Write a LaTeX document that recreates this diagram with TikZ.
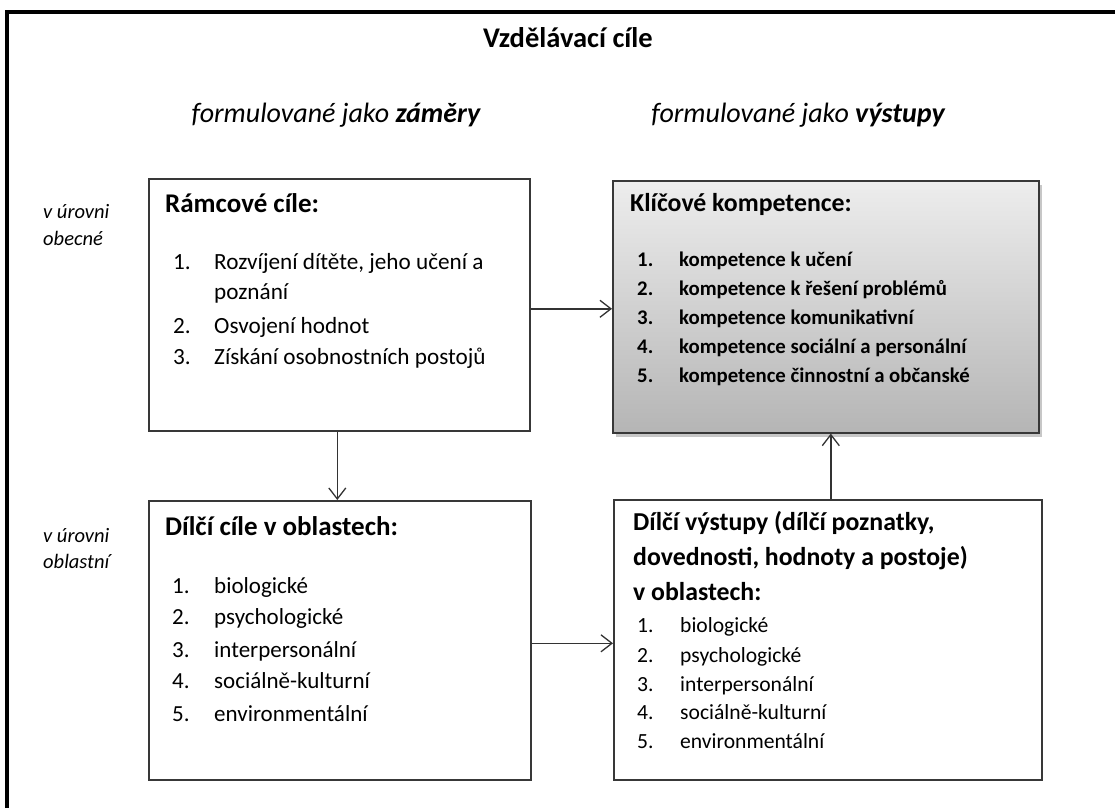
\documentclass[tikz,border=0pt]{standalone}
\usepackage{fontspec}
\setmainfont{Carlito}
\usetikzlibrary{arrows.meta,shadows}
\begin{document}
\begin{tikzpicture}[x=1pt,y=-1pt,
  box/.style={draw=black!78,line width=1.6pt,rectangle,inner sep=0pt,anchor=north west},
  lbl/.style={anchor=base west,inner sep=0pt},
  item/.style={lbl,font=\fontsize{23.2}{26}\selectfont},
  itemb/.style={lbl,font=\fontsize{20.8}{24}\selectfont\bfseries},
  itemd/.style={lbl,font=\fontsize{23}{26}\selectfont},
  itemc/.style={lbl,font=\fontsize{21.6}{24}\selectfont},
  head/.style={lbl,font=\fontsize{27}{30}\selectfont\bfseries},
  headc/.style={lbl,font=\fontsize{25.8}{30}\selectfont\bfseries},
  side/.style={lbl,font=\fontsize{20.5}{24}\selectfont\itshape},
  conn/.style={draw=black!80,line width=1.5pt,-{Straight Barb[length=11pt,width=17pt,line width=1.3pt]}}
]
\useasboundingbox (0,0) rectangle (1115,808);
\fill[white] (0,0) rectangle (1115,808);
% outer frame
\draw[line width=4.5pt,black] (7,808) -- (7,12) -- (1115,12);

% titles
\node[anchor=base,inner sep=0pt,font=\fontsize{28.5}{32}\selectfont\bfseries] (title) at (568,48) {Vzdělávací cíle};
\node[anchor=base,inner sep=0pt,font=\fontsize{28}{32}\selectfont\itshape] (zam) at (336,122) {formulované jako \textbf{záměry}};
\node[anchor=base,inner sep=0pt,font=\fontsize{28}{32}\selectfont\itshape] (vys) at (798,122) {formulované jako \textbf{výstupy}};

% side labels
\node[side] (s1a) at (43,218) {v úrovni};
\node[side] (s1b) at (43,245) {obecné};
\node[side] (s2a) at (43,542) {v úrovni};
\node[side] (s2b) at (43,568) {oblastní};

% boxes
\node[box,minimum width=381,minimum height=252] (b1) at (148,178) {};
\node[box,minimum width=426,minimum height=252,top color=black!7,bottom color=black!29,
  drop shadow={shadow xshift=3pt,shadow yshift=-4pt,opacity=0.22,fill=black}] (b2) at (612,180) {};
\node[box,minimum width=382,minimum height=279] (b3) at (148,500) {};
\node[box,minimum width=428,minimum height=280] (b4) at (613,499) {};

% box 1 text
\node[head] (h1) at (165,212) {Rámcové cíle:};
\node[item] (n11) at (173,269) {1.};
\node[item] (t11) at (214,269) {Rozvíjení dítěte, jeho učení a};
\node[item] (t11b) at (214,299) {poznání};
\node[item] (n12) at (173,333) {2.};
\node[item] (t12) at (214,333) {Osvojení hodnot};
\node[item] (n13) at (173,364) {3.};
\node[item] (t13) at (214,364) {Získání osobnostních postojů};

% box 2 text
\node[headc] (h2) at (630,211) {Klíčové kompetence:};
\node[itemb] (n21) at (637,266) {1.};
\node[itemb] (t21) at (679,266) {kompetence k učení};
\node[itemb] (n22) at (637,295) {2.};
\node[itemb] (t22) at (679,295) {kompetence k řešení problémů};
\node[itemb] (n23) at (637,324) {3.};
\node[itemb] (t23) at (679,324) {kompetence komunikativní};
\node[itemb] (n24) at (637,353) {4.};
\node[itemb] (t24) at (679,353) {kompetence sociální a personální};
\node[itemb] (n25) at (637,382) {5.};
\node[itemb] (t25) at (679,382) {kompetence činnostní a občanské};

% box 3 text
\node[head] (h3) at (165,535) {Dílčí cíle v oblastech:};
\node[itemd] (n31) at (172,593) {1.};
\node[itemd] (t31) at (214,593) {biologické};
\node[itemd] (n32) at (172,624) {2.};
\node[itemd] (t32) at (214,624) {psychologické};
\node[itemd] (n33) at (172,657) {3.};
\node[itemd] (t33) at (214,657) {interpersonální};
\node[itemd] (n34) at (172,688) {4.};
\node[itemd] (t34) at (214,688) {sociálně-kulturní};
\node[itemd] (n35) at (172,721) {5.};
\node[itemd] (t35) at (214,721) {environmentální};

% box 4 text
\node[headc] (h4a) at (633,530) {Dílčí výstupy (dílčí poznatky,};
\node[headc] (h4b) at (633,565) {dovednosti, hodnoty a postoje)};
\node[headc] (h4c) at (633,600) {v oblastech:};
\node[itemc] (n41) at (637,632) {1.};
\node[itemc] (t41) at (680,632) {biologické};
\node[itemc] (n42) at (637,662) {2.};
\node[itemc] (t42) at (680,662) {psychologické};
\node[itemc] (n43) at (637,691) {3.};
\node[itemc] (t43) at (680,691) {interpersonální};
\node[itemc] (n44) at (637,719) {4.};
\node[itemc] (t44) at (680,719) {sociálně-kulturní};
\node[itemc] (n45) at (637,748) {5.};
\node[itemc] (t45) at (680,748) {environmentální};

% connectors
\draw[conn] ([yshift=-4pt]b1.east) -- ([yshift=-4pt]b1.east -| b2.west);
\draw[conn] ([xshift=-2pt]b1.south) -- ([xshift=-2pt]b1.south |- b3.north);
\draw[conn] ([yshift=-3pt]b3.east) -- ([yshift=-3pt]b3.east -| b4.west);
\draw[conn] ([xshift=3pt]b4.north) -- ([xshift=3pt]b4.north |- b2.south);
\end{tikzpicture}
\end{document}
